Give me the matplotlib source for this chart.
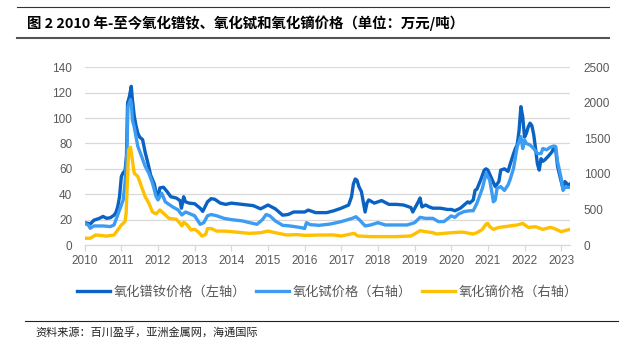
import matplotlib
matplotlib.use("Agg")
import matplotlib.pyplot as plt
from matplotlib.lines import Line2D

plt.rcParams['font.family'] = ['Noto Sans CJK SC', 'DejaVu Sans']

# ---------------- data ----------------
prnd_t = [2010.00, 2010.10, 2010.15, 2010.25, 2010.40, 2010.50, 2010.60, 2010.70, 2010.80, 2010.85,
          2010.90, 2010.95, 2011.00, 2011.05, 2011.10, 2011.14, 2011.17, 2011.22, 2011.27, 2011.30,
          2011.35, 2011.40, 2011.45, 2011.50, 2011.58, 2011.65, 2011.72, 2011.80, 2011.90, 2011.95,
          2012.00, 2012.05, 2012.15, 2012.25, 2012.35, 2012.50, 2012.60, 2012.64, 2012.70, 2012.75,
          2012.85, 2013.00, 2013.15, 2013.22, 2013.35, 2013.45, 2013.55, 2013.70, 2013.85, 2014.00,
          2014.15, 2014.30, 2014.60, 2014.80, 2015.00, 2015.20, 2015.40, 2015.55, 2015.70, 2016.00,
          2016.10, 2016.30, 2016.60, 2016.80, 2017.00, 2017.20, 2017.28, 2017.33, 2017.38, 2017.43,
          2017.48, 2017.55, 2017.60, 2017.65, 2017.70, 2017.75, 2017.90, 2018.00, 2018.10, 2018.30,
          2018.50, 2018.70, 2018.90, 2018.95, 2019.10, 2019.15, 2019.20, 2019.30, 2019.40, 2019.50,
          2019.70, 2019.90, 2020.00, 2020.10, 2020.25, 2020.35, 2020.45, 2020.50, 2020.60, 2020.65,
          2020.70, 2020.80, 2020.90, 2020.95, 2021.00, 2021.10, 2021.20, 2021.30, 2021.35, 2021.45,
          2021.55, 2021.60, 2021.70, 2021.75, 2021.80, 2021.85, 2021.90, 2021.95, 2022.00, 2022.05,
          2022.10, 2022.15, 2022.20, 2022.25, 2022.30, 2022.35, 2022.40, 2022.45, 2022.50, 2022.55,
          2022.65, 2022.75, 2022.80, 2022.85, 2022.90, 2023.00, 2023.05, 2023.10, 2023.20, 2023.24]
prnd_v = [17.5, 17, 16.5, 19.5, 21, 22.5, 21, 21.5, 23.5, 25.5,
          30, 38, 54, 57, 58.5, 70, 112, 117, 125, 115,
          102, 94, 88, 85, 83, 73, 65, 55, 48, 41,
          37, 45, 45.5, 42, 38, 37, 35, 29, 38, 34,
          33, 32.5, 29, 26.5, 34, 36.5, 36, 33, 32, 33,
          32.5, 32, 31, 28.5, 31.5, 28.5, 23.5, 24, 26, 26,
          27.5, 25.5, 25.5, 27, 29, 31.5, 38, 48, 52, 51,
          46, 42, 34, 26, 33, 35.5, 33, 34, 35, 32,
          32, 31.5, 29.5, 26, 34, 37, 30, 31.5, 30, 29,
          29, 28, 28, 27, 29, 31.5, 34, 33, 35.5, 43,
          44, 51, 59, 60, 59, 52.5, 46, 50, 59, 60,
          58, 63, 72, 76, 79, 90, 109, 101, 85, 88,
          93, 96, 94, 87, 76, 64, 59, 68, 66, 67,
          70, 73.5, 77, 75, 62, 50, 44.5, 50, 47, 48]

tb_t = [2010.00, 2010.10, 2010.15, 2010.25, 2010.50, 2010.70, 2010.80, 2010.85, 2010.95, 2011.05,
        2011.10, 2011.15, 2011.18, 2011.25, 2011.28, 2011.30, 2011.35, 2011.45, 2011.55, 2011.65,
        2011.75, 2011.85, 2011.95, 2012.00, 2012.10, 2012.20, 2012.40, 2012.55, 2012.65, 2012.75,
        2012.80, 2013.00, 2013.15, 2013.25, 2013.35, 2013.45, 2013.60, 2013.80, 2014.00, 2014.30,
        2014.50, 2014.70, 2014.85, 2014.95, 2015.05, 2015.20, 2015.40, 2015.60, 2015.90, 2016.00,
        2016.05, 2016.15, 2016.40, 2016.70, 2017.00, 2017.30, 2017.40, 2017.50, 2017.65, 2017.80,
        2018.00, 2018.20, 2018.50, 2018.80, 2019.00, 2019.15, 2019.30, 2019.50, 2019.65, 2019.80,
        2020.00, 2020.10, 2020.20, 2020.35, 2020.50, 2020.60, 2020.70, 2020.80, 2020.85, 2020.95,
        2021.05, 2021.10, 2021.15, 2021.20, 2021.25, 2021.35, 2021.45, 2021.55, 2021.60, 2021.70,
        2021.80, 2021.90, 2021.95, 2022.00, 2022.05, 2022.15, 2022.25, 2022.35, 2022.45, 2022.50,
        2022.60, 2022.70, 2022.80, 2022.85, 2022.90, 2023.00, 2023.05, 2023.10, 2023.24]
tb_v = [300, 282, 235, 268, 268, 259, 282, 352, 493, 634,
        870, 1286, 1946, 2045, 1946, 1762, 1661, 1386, 1250, 1107,
        1011, 870, 679, 634, 729, 607, 536, 493, 423, 464,
        455, 411, 291, 314, 411, 429, 411, 375, 357, 339,
        314, 291, 357, 429, 411, 339, 277, 268, 245, 232,
        314, 286, 277, 295, 329, 375, 398, 352, 268, 282,
        314, 282, 282, 282, 314, 389, 375, 375, 329, 329,
        409, 389, 436, 470, 482, 482, 586, 727, 798, 1009,
        911, 768, 607, 634, 798, 821, 768, 845, 911, 1079,
        1384, 1525, 1357, 1477, 1429, 1407, 1357, 1286, 1286, 1357,
        1339, 1375, 1393, 1384, 1173, 937, 768, 811, 811]

dy_t = [2010.00, 2010.15, 2010.30, 2010.60, 2010.80, 2010.90, 2011.00, 2011.10, 2011.13, 2011.17,
        2011.20, 2011.25, 2011.30, 2011.35, 2011.45, 2011.55, 2011.65, 2011.75, 2011.85, 2011.95,
        2012.05, 2012.15, 2012.30, 2012.50, 2012.60, 2012.65, 2012.70, 2012.80, 2012.90, 2013.00,
        2013.10, 2013.20, 2013.30, 2013.35, 2013.45, 2013.60, 2013.80, 2014.00, 2014.30, 2014.50,
        2014.80, 2015.00, 2015.20, 2015.50, 2015.80, 2016.00, 2016.50, 2016.80, 2017.00, 2017.35,
        2017.45, 2017.80, 2018.00, 2018.50, 2018.90, 2019.00, 2019.15, 2019.30, 2019.50, 2019.60,
        2019.80, 2020.00, 2020.30, 2020.50, 2020.60, 2020.70, 2020.85, 2020.95, 2021.00, 2021.05,
        2021.15, 2021.30, 2021.45, 2021.60, 2021.80, 2021.95, 2022.10, 2022.30, 2022.50, 2022.70,
        2022.80, 2022.90, 2023.00, 2023.10, 2023.24]
dy_v = [95, 95, 141, 125, 141, 211, 282, 329, 446, 964,
        1339, 1375, 1196, 1011, 964, 821, 679, 589, 464, 438,
        493, 446, 375, 362, 304, 268, 320, 282, 211, 221,
        184, 125, 150, 232, 232, 196, 196, 188, 173, 164,
        173, 196, 173, 141, 146, 136, 141, 141, 127, 164,
        127, 118, 118, 118, 127, 155, 202, 188, 173, 155,
        164, 173, 182, 164, 155, 173, 220, 295, 304, 257,
        220, 248, 257, 268, 282, 304, 248, 257, 220, 248,
        234, 211, 188, 202, 220]

years = list(range(2010, 2024))
left_ticks = [0, 20, 40, 60, 80, 100, 120, 140]
right_ticks = [0, 500, 1000, 1500, 2000, 2500]

labels = ['氧化镨钕价格（左轴）', '氧化铽价格（右轴）', '氧化镝价格（右轴）']
colors = ['#0A62C2', '#3C9CF2', '#FFC000']
title = '图 2 2010 年-至今氧化镨钕、氧化铽和氧化镝价格（单位：万元/吨）'
source = '资料来源：百川盈孚，亚洲金属网，海通国际'

# ---------------- figure ----------------
W, H = 623, 357
fig = plt.figure(figsize=(W / 100, H / 100), dpi=100)
fig.patch.set_facecolor('white')

ax = fig.add_axes([84.7 / W, 112 / H, (570 - 84.7) / W, 177.7 / H])
ax2 = ax.twinx()

tick_font = dict(family='Liberation Sans', size=8.5)
grey = '#595959'

l1, = ax.plot(prnd_t, prnd_v, color=colors[0], lw=2.4, solid_joinstyle='round')
l2, = ax2.plot(tb_t, tb_v, color=colors[1], lw=2.4, solid_joinstyle='round')
l3, = ax2.plot(dy_t, dy_v, color=colors[2], lw=2.4, solid_joinstyle='round')

ax.set_xlim(2010, 2023.24)
ax.set_ylim(0, 140)
ax2.set_ylim(0, 2500)
ax.set_yticks(left_ticks)
ax2.set_yticks(right_ticks)
ax.set_xticks(years)
ax.set_xticklabels([str(y) for y in years], fontdict=tick_font, color=grey)
ax.set_yticklabels([str(v) for v in left_ticks], fontdict=tick_font, color=grey)
ax2.set_yticklabels([str(v) for v in right_ticks], fontdict=tick_font, color=grey)

ax.grid(axis='y', color='#D9D9D9', lw=0.9)
ax.set_axisbelow(True)
for a in (ax, ax2):
    for s in ('top', 'left', 'right', 'bottom'):
        a.spines[s].set_visible(False)
ax.spines['bottom'].set_visible(True)
ax.spines['bottom'].set_color('#D9D9D9')
ax.spines['bottom'].set_linewidth(0.9)
ax.tick_params(axis='x', length=4, width=0.9, color='#D9D9D9', pad=3)
ax.tick_params(axis='y', length=0, pad=9)
ax2.tick_params(axis='y', length=0, pad=10)

# legend
fig.legend([l1, l2, l3], labels, loc='center', bbox_to_anchor=(327.5 / W, 1 - 292 / H),
           ncol=3, frameon=False, handlelength=2.5, handletextpad=0.25, columnspacing=0.8,
           prop=dict(family=['Noto Sans CJK SC', 'DejaVu Sans'], size=9.5), labelcolor=grey)

# title, rules, source
fig.add_artist(Line2D([17 / W, 609 / W], [1 - 7 / H, 1 - 7 / H], transform=fig.transFigure,
                      color='#333333', lw=0.8))
fig.add_artist(Line2D([17 / W, 609 / W], [1 - 37.5 / H, 1 - 37.5 / H], transform=fig.transFigure,
                      color='#555555', lw=1.5))
fig.add_artist(Line2D([25 / W, 618 / W], [1 - 321 / H, 1 - 321 / H], transform=fig.transFigure,
                      color='#222222', lw=0.8))
fig.text(27 / W, 1 - 23 / H, title, fontsize=10.4, fontweight='bold', va='center', ha='left',
         color='black')
fig.text(35 / W, 1 - 332 / H, source, fontsize=8, va='center', ha='left', color='#222222')

fig.savefig('out.png', dpi=100, facecolor='white')
